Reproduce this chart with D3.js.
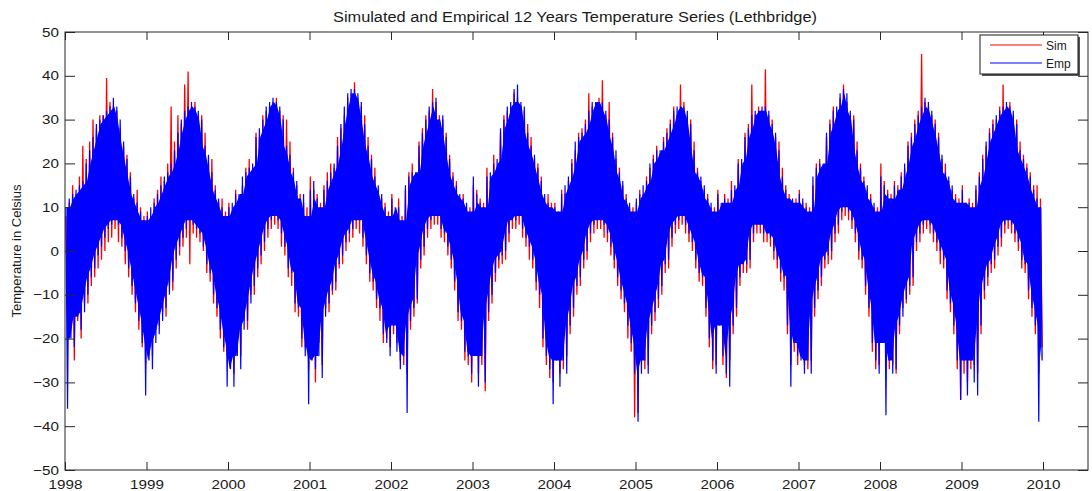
<!DOCTYPE html>
<html>
<head>
<meta charset="utf-8">
<script src="https://cdn.jsdelivr.net/npm/d3@7"></script>
<style>
  html, body { margin: 0; padding: 0; background: #fff; }
  svg text { font-family: "Liberation Sans", Arial, Helvetica, sans-serif; fill: #1a1a1a; }
</style>
</head>
<body>
<svg id="chart" width="1092" height="491"></svg>
<script>
// ---- Data (24 half-month slots per year, 1998..2009) ----
const title = "Simulated and Empirical 12 Years Temperature Series (Lethbridge)";
const yLabel = "Temperature in Celsius";
const seriesNames = ["Sim", "Emp"];
const xTickValues = [1998, 1999, 2000, 2001, 2002, 2003, 2004, 2005, 2006, 2007, 2008, 2009, 2010];
const yTickValues = [-50, -40, -30, -20, -10, 0, 10, 20, 30, 40, 50];
const startYear = 1998;
const slotsPerYear = 24;

// Empirical: upper and lower parts of each half-month
const empHigh = [
  10,12,13,14,15,16,20,23,26,29,30,31,32,33,35,33,30,25,21,17,13,11,9,7,
  8,10,11,13,15,17,18,20,23,27,30,32,33,34,33,32,30,24,22,18,14,12,10,8,
  10,11,13,13,17,18,19,20,26,28,30,33,34,35,34,33,30,24,22,18,16,12,13,8,
  14,16,12,10,14,16,18,20,24,29,33,36,37,37,36,34,29,24,21,17,15,13,10,8,
  12,10,10,7,15,17,18,18,24,27,30,33,34,35,30,31,26,21,17,15,13,12,11,9,
  17,13,11,10,17,18,20,21,28,30,33,34,37,38,34,33,27,24,22,19,16,13,11,10,
  10,9,13,15,17,20,25,26,27,29,32,34,34,34,34,32,30,26,23,18,16,12,11,9,
  12,13,15,16,20,21,23,23,25,27,29,32,33,33,33,32,29,23,18,17,15,12,11,9,
  13,11,12,11,14,15,20,21,26,28,31,32,32,33,33,32,29,27,23,17,14,12,12,11,
  13,12,10,9,17,19,20,20,27,29,32,33,36,37,36,32,30,23,19,16,15,12,11,9,
  17,15,13,12,15,14,17,20,24,26,29,31,33,35,34,32,29,26,22,18,17,15,12,11,
  14,11,11,10,15,17,21,25,27,29,31,32,33,34,33,32,29,23,21,19,17,14,12,10
];
const empLow = [
  -36,-20,-22,-15,-18,-14,-10,-6,-4,-1,1,3,5,6,7,6,3,0,-4,-8,-12,-16,-21,-33,
  -25,-27,-21,-19,-16,-13,-10,-7,-2,1,3,5,7,6,5,4,1,-3,-5,-10,-13,-18,-22,-31,
  -27,-31,-24,-27,-18,-16,-12,-8,-4,-1,2,5,7,8,7,4,1,-4,-5,-12,-13,-20,-24,-35,
  -25,-27,-24,-29,-15,-12,-9,-7,-3,-1,2,4,5,7,7,3,-1,-5,-7,-11,-13,-19,-21,-24,
  -17,-23,-27,-24,-37,-16,-13,-11,-2,1,5,7,8,8,5,4,1,-2,-7,-14,-16,-23,-24,-28,
  -24,-31,-24,-30,-14,-10,-5,-2,-1,0,4,7,7,8,5,3,1,-2,-7,-10,-20,-24,-27,-35,
  -25,-31,-25,-28,-17,-13,-8,-6,-2,0,4,6,7,7,6,4,1,-2,-6,-9,-12,-17,-21,-28,
  -39,-28,-25,-28,-17,-14,-11,-8,-3,-2,3,6,7,8,6,4,2,-2,-5,-6,-13,-20,-25,-28,
  -17,-24,-28,-31,-17,-13,-6,-3,-3,-2,4,6,6,4,4,3,0,-2,-5,-6,-17,-31,-21,-24,
  -25,-28,-25,-28,-13,-9,-6,-2,-1,0,4,6,9,10,9,7,4,0,-2,-8,-13,-21,-25,-28,
  -21,-37.5,-25,-28,-27,-17,-15,-11,-8,-6,2,4,6,7,6,4,2,0,-2,-9,-12,-17,-25,-34,
  -25,-33,-25,-30,-33,-17,-9,-6,-3,-2,1,3,6,7,6,4,2,-2,-3,-9,-13,-17,-39,-25
];
// Simulated: upper and lower parts of each half-month
const simHigh = [
  8,11,15,13,17,24,21,25,30,28,31,31,39.5,34,33,32,28,24,22,18,12,14,10,8,
  9,8,12,14,17,16,20,33,25,31,29,38,41,33,34,30,31,27,20,21,15,11,12,9,
  11,9,14,12,15,19,21,18,27,26,31,32,33,34,35,32,31,30,25,19,15,13,11,10,
  17,14,13,11,15,18,20,19,26,28,31,35,36,38.5,35,33,31,26,22,19,14,12,11,9,
  13,9,12,8,14,18,20,17,25,28,31,32,37,34,31,30,27,22,18,16,12,13,10,10,
  15,14,12,11,19,16,22,19,27,31,32,33,36,35,33,32,29,26,21,20,17,12,13,11,
  11,8,14,13,16,21,23,27,28,30,36,33,33,35,39,31,34,27,21,19,15,13,10,10,
  11,14,13,17,19,22,24,21,26,28,30,33,31,38,34,31,30,25,19,16,14,13,10,10,
  14,10,13,12,16,14,21,19,27,29,38,31,33,32,41.5,31,30,26,25,19,15,13,11,12,
  14,11,11,10,15,20,21,18,26,30,33,31,35,38,34,31,31,25,20,17,14,13,10,10,
  20,16,14,13,16,15,18,19,25,27,30,32,45,34,33,31,30,27,21,20,16,14,13,12,
  15,10,12,11,14,18,22,24,28,30,30,33,38,33,34,31,30,25,22,20,18,15,15,12
];
const simLow = [
  -15,-12,-25,-16,-20,-12,-12,-8,-6,-4,-2,0,2,3,5,2,1,-3,-6,-10,-14,-18,-22,-26,
  -20,-24,-18,-17,-14,-15,-8,-9,-4,-1,1,3,-3,4,3,2,0,-5,-7,-12,-15,-20,-23,-24,
  -22,-28,-20,-24,-16,-18,-10,-10,-6,-3,0,3,5,6,5,1,-1,-6,-8,-14,-15,-22,-22,-27,
  -22,-30,-21,-26,-13,-14,-10,-9,-4,-3,0,2,3,5,4,1,-3,-7,-9,-13,-16,-21,-20,-22,
  -19,-21,-25,-26,-28,-18,-15,-12,-4,-1,3,5,6,6,3,2,-1,-4,-9,-16,-18,-25,-26,-30,
  -22,-28,-26,-32,-16,-12,-7,-4,-3,-2,2,5,5,6,3,1,-2,-4,-9,-13,-22,-26,-29,-30,
  -23,-28,-27,-24,-19,-15,-10,-8,-4,-2,2,4,5,5,3,2,-1,-4,-8,-11,-14,-20,-23,-38,
  -37,-25,-27,-26,-19,-16,-13,-10,-5,-4,1,4,5,6,4,2,0,-4,-7,-8,-15,-22,-27,-26,
  -15,-26,-29,-25,-19,-15,-8,-5,-5,-4,2,4,4,2,2,1,-2,-4,-7,-9,-19,-26,-23,-26,
  -23,-26,-27,-25,-15,-11,-8,-4,-3,-2,2,4,7,8,7,5,2,-2,-4,-10,-15,-23,-27,-26,
  -19,-25,-27,-26,-28,-19,-13,-12,-10,-8,0,2,4,5,4,2,0,-3,-4,-11,-14,-19,-27,-34,
  -28,-30,-27,-26,-28,-19,-11,-8,-5,-4,-1,1,4,5,4,2,0,-4,-5,-11,-15,-19,-28,-22
];

// ---- Layout ----
const plot = { left: 65, right: 1088, top: 32, bottom: 470 };
const svg = d3.select("#chart");
const pxPerYear = (1043 - 65) / 12;

const x = d3.scaleLinear()
  .domain([1998, 1998 + (plot.right - plot.left) / pxPerYear])
  .range([plot.left, plot.right]);
const y = d3.scaleLinear().domain([-50, 50]).range([plot.bottom, plot.top]);

// Zig-zag line through each half-month's high then low value
function buildSeries(hi, lo) {
  const pts = [];
  for (let i = 0; i < hi.length; i++) {
    pts.push({ t: startYear + (i + 0.25) / slotsPerYear, v: hi[i] });
    pts.push({ t: startYear + (i + 0.75) / slotsPerYear, v: lo[i] });
  }
  return pts;
}
// Dense core of the band: the range shared by neighbouring half-months
function buildCore(hi, lo) {
  return hi.map((_, i) => {
    const a = Math.max(0, i - 1), b = Math.min(hi.length - 1, i + 1);
    return {
      t: startYear + (i + 0.5) / slotsPerYear,
      top: Math.min(hi[a], hi[i], hi[b]),
      bot: Math.max(lo[a], lo[i], lo[b])
    };
  });
}
const simSeries = buildSeries(simHigh, simLow);
const empSeries = buildSeries(empHigh, empLow);
const empCore = buildCore(empHigh, empLow);

svg.append("defs").append("clipPath").attr("id", "clip")
  .append("rect").attr("x", plot.left).attr("y", plot.top)
  .attr("width", plot.right - plot.left).attr("height", plot.bottom - plot.top);

const line = d3.line().x(d => x(d.t)).y(d => y(d.v));
const area = d3.area().x(d => x(d.t)).y0(d => y(d.bot)).y1(d => y(d.top));

const g = svg.append("g").attr("clip-path", "url(#clip)");
g.append("path").datum(simSeries).attr("d", line)
  .attr("fill", "none").attr("stroke", "#ff0000").attr("stroke-width", 1.3);
g.append("path").datum(empCore).attr("d", area).attr("fill", "#0000ff");
g.append("path").datum(empSeries).attr("d", line)
  .attr("fill", "none").attr("stroke", "#0000ff").attr("stroke-width", 1.2);

// ---- Axes (MATLAB-like box with inward ticks) ----
const axisColor = "#262626";
const bottomAxis = d3.axisBottom(x).tickValues(xTickValues).tickFormat(d3.format("d"))
  .tickSizeInner(-8).tickSizeOuter(0).tickPadding(0);
const topAxis = d3.axisTop(x).tickValues(xTickValues).tickFormat("")
  .tickSizeInner(-8).tickSizeOuter(0);
const leftAxis = d3.axisLeft(y).tickValues(yTickValues).tickFormat(d3.format("d"))
  .tickSizeInner(-10).tickSizeOuter(0).tickPadding(6);
const rightAxis = d3.axisRight(y).tickValues(yTickValues).tickFormat("")
  .tickSizeInner(-10).tickSizeOuter(0);

function styleAxis(sel) {
  sel.select(".domain").remove();
  sel.selectAll("line").attr("stroke", axisColor);
  sel.selectAll("text").style("font-family", '"Liberation Sans", Arial, sans-serif')
    .style("font-size", "13px").attr("fill", "#1a1a1a");
}
const bx = svg.append("g").attr("transform", `translate(0,${plot.bottom})`).call(bottomAxis).call(styleAxis);
bx.selectAll("text").attr("y", 0).attr("dy", 0)
  .attr("transform", "translate(0,18.5) scale(1.17,1)");
svg.append("g").attr("transform", `translate(0,${plot.top})`).call(topAxis).call(styleAxis);
const ly = svg.append("g").attr("transform", `translate(${plot.left},0)`).call(leftAxis).call(styleAxis);
ly.selectAll("text").attr("x", 0).attr("transform", "translate(-6,0) scale(1.17,1)");
svg.append("g").attr("transform", `translate(${plot.right},0)`).call(rightAxis).call(styleAxis);

svg.append("rect").attr("x", plot.left).attr("y", plot.top)
  .attr("width", plot.right - plot.left).attr("height", plot.bottom - plot.top)
  .attr("fill", "none").attr("stroke", axisColor).attr("stroke-width", 1);

// ---- Title and labels ----
svg.append("text").attr("x", 575).attr("y", 22)
  .attr("text-anchor", "middle").style("font-size", "14px")
  .attr("textLength", 484).attr("lengthAdjust", "spacingAndGlyphs").text(title);
svg.append("text").attr("transform", `translate(21,${(plot.top + plot.bottom) / 2}) rotate(-90)`)
  .attr("text-anchor", "middle").style("font-size", "13px").text(yLabel);

// ---- Legend ----
const legend = svg.append("g");
legend.append("rect").attr("x", 982).attr("y", 37).attr("width", 98).attr("height", 39).attr("fill", "#555");
legend.append("rect").attr("x", 980).attr("y", 35).attr("width", 98).attr("height", 39)
  .attr("fill", "#fff").attr("stroke", "#1a1a1a");
const legColors = ["#ff0000", "#0000ff"];
seriesNames.forEach((name, i) => {
  const yy = 45 + i * 18;
  legend.append("line").attr("x1", 990).attr("x2", 1042).attr("y1", yy).attr("y2", yy)
    .attr("stroke", legColors[i]).attr("stroke-width", 1.2);
  legend.append("text").attr("x", 1046).attr("y", yy + 4.5).style("font-size", "12px").text(name);
});
</script>
</body>
</html>
